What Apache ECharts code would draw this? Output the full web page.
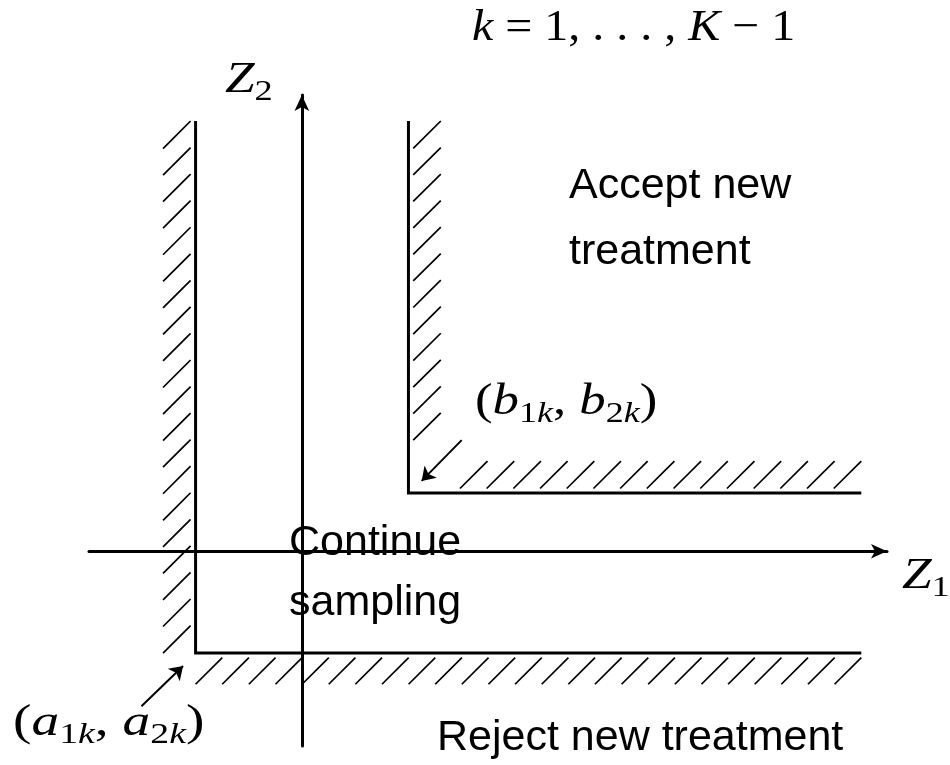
<!DOCTYPE html>
<html><head><meta charset="utf-8">
<script src="https://cdn.jsdelivr.net/npm/echarts@6/dist/echarts.min.js"></script>
<style>html,body{margin:0;padding:0;background:#fff}#c{width:950px;height:765px}</style>
</head><body><div id="c"></div>
<script>
// ---- values (axis units) ----
const axisRangeX = [-21.27, 58.47];
const axisRangeY = [-19.47, 45.6];
const lowerCorner = [-10.62, -10.18];   // (a1k, a2k)
const upperCorner = [10.65, 5.82];      // (b1k, b2k)
const boundaryTop = 43.0;
const boundaryRight = 55.9;
const regionLabels = ['Accept new', 'treatment', 'Continue', 'sampling', 'Reject new treatment'];
const axisNames = ['Z', '1', 'Z', '2'];

// ---- derived geometry ----
const lowerPath = [[lowerCorner[0], boundaryTop], lowerCorner.slice(), [boundaryRight, lowerCorner[1]]];
const upperPath = [[upperCorner[0], boundaryTop], upperCorner.slice(), [boundaryRight, upperCorner[1]]];

const HATCH_STEP = 2.66;
function hatchRun(from, to, seg) {
  const dist = Math.hypot(to[0] - from[0], to[1] - from[1]);
  const n = Math.round(dist / HATCH_STEP) + 1;
  const out = [];
  for (let i = 0; i < n; i++) {
    const t = n === 1 ? 0 : i / (n - 1);
    const x = from[0] + (to[0] - from[0]) * t;
    const y = from[1] + (to[1] - from[1]) * t;
    out.push({ coords: [[x, y], [x + seg[0], y + seg[1]]] });
  }
  return out;
}
const a1 = lowerCorner[0], a2 = lowerCorner[1], b1 = upperCorner[0], b2 = upperCorner[1];
const hatches = [].concat(
  hatchRun([a1 - 3.25, a2], [a1 - 3.25, boundaryTop - 2.75], [2.75, 2.75]),
  hatchRun([a1, a2 - 3.12], [boundaryRight - 2.67, a2 - 3.12], [2.67, 2.67]),
  hatchRun([b1 + 0.48, b2 + 5.28], [b1 + 0.48, boundaryTop - 2.73], [2.75, 2.73]),
  hatchRun([b1 + 5.15, b2 + 0.45], [boundaryRight - 2.75, b2 + 0.45], [2.75, 2.73])
);
const pointers = [
  { coords: [[a1 - 5.41, a2 - 5.32], [a1 - 1.25, a2 - 1.29]] },
  { coords: [[b1 + 5.32, b2 + 5.28], [b1 + 1.32, b2 + 1.21]] }
];

// ---- text styles ----
const mathFont = 'Liberation Serif';
const rich = {
  i: { fontFamily: mathFont, fontStyle: 'italic', fontSize: 44, lineHeight: 54, verticalAlign: 'middle', fill: '#000' },
  r: { fontFamily: mathFont, fontSize: 44, lineHeight: 54, verticalAlign: 'middle', fill: '#000' },
  si: { fontFamily: mathFont, fontStyle: 'italic', fontSize: 30, verticalAlign: 'bottom', fill: '#000' },
  sr: { fontFamily: mathFont, fontSize: 30, verticalAlign: 'bottom', fill: '#000' }
};
function mathText(x, y, text, sx) {
  return { type: 'text', x: x, y: y, scaleX: sx, z: 100, style: { text: text, rich: rich, fill: '#000', align: 'left', verticalAlign: 'middle' } };
}
function sansText(x, y, text) {
  return { type: 'text', x: x, y: y, z: 100, style: { text: text, fill: '#000', font: '43px "Liberation Sans"', align: 'left', verticalAlign: 'middle' } };
}

const axisCommon = {
  type: 'value',
  axisLine: { onZero: true, symbol: ['none', 'arrow'], symbolSize: [11, 16], lineStyle: { color: '#000', width: 3 } },
  axisTick: { show: false }, axisLabel: { show: false }, splitLine: { show: false }
};

const chart = echarts.init(document.getElementById('c'));
chart.setOption({
  animation: false,
  backgroundColor: '#fff',
  grid: { left: 89, right: 63, top: 95, bottom: 19 },
  xAxis: Object.assign({}, axisCommon, { min: axisRangeX[0], max: axisRangeX[1] }),
  yAxis: Object.assign({}, axisCommon, { min: axisRangeY[0], max: axisRangeY[1] }),
  series: [
    { type: 'line', data: lowerPath, symbol: 'none', silent: true,
      lineStyle: { color: '#000', width: 3, join: 'miter', cap: 'butt' } },
    { type: 'line', data: upperPath, symbol: 'none', silent: true,
      lineStyle: { color: '#000', width: 3, join: 'miter', cap: 'butt' } },
    { type: 'lines', coordinateSystem: 'cartesian2d', data: hatches, silent: true,
      symbol: 'none', lineStyle: { color: '#000', width: 1.7, opacity: 1, curveness: 0 } },
    { type: 'lines', coordinateSystem: 'cartesian2d', data: pointers, silent: true,
      symbol: ['none', 'arrow'], symbolSize: 13,
      lineStyle: { color: '#000', width: 2, opacity: 1, curveness: 0 } }
  ],
  graphic: [
    mathText(472, 28, '{i|k}{r| = 1, . . . , }{i|K}{r| − 1}', 1.09),
    mathText(225, 80, '{i|' + axisNames[2] + '}{sr|' + axisNames[3] + '}', 1.21),
    mathText(902, 576, '{i|' + axisNames[0] + '}{sr|' + axisNames[1] + '}', 1.21),
    mathText(475, 402, '{r|(}{i|b}{sr|1}{si|k}{r|, }{i|b}{sr|2}{si|k}{r|)}', 1.2),
    mathText(13, 723, '{r|(}{i|a}{sr|1}{si|k}{r|, }{i|a}{sr|2}{si|k}{r|)}', 1.26),
    sansText(569, 186, regionLabels[0]),
    sansText(569, 252, regionLabels[1]),
    sansText(289, 543, regionLabels[2]),
    sansText(289, 603, regionLabels[3]),
    sansText(437, 738, regionLabels[4])
  ]
});
</script></body></html>
